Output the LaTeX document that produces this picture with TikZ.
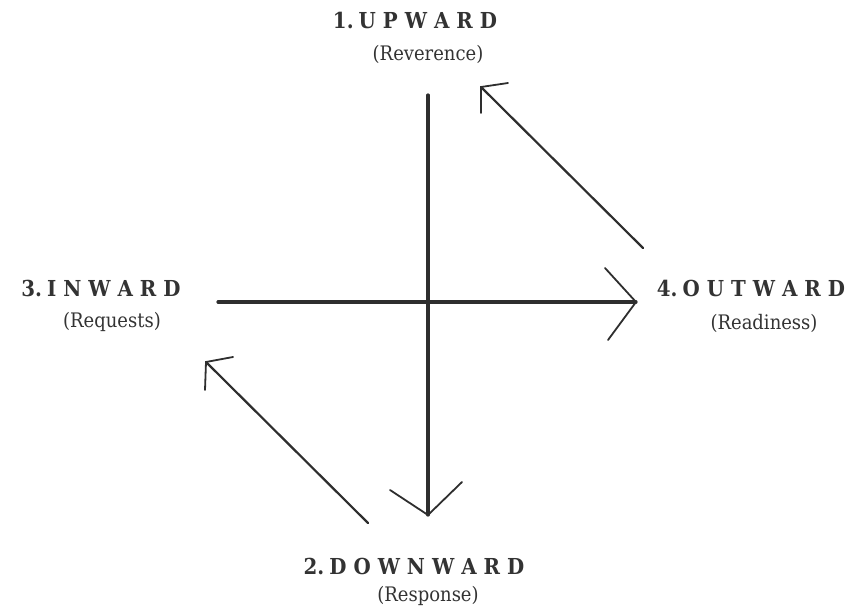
\documentclass[tikz,border=0pt]{standalone}
\usepackage{fontspec}
\setmainfont{DejaVu Serif Condensed}
\newfontfamily\headfont{DejaVu Serif Condensed Bold}
\definecolor{ink}{HTML}{333333}
\definecolor{pencil}{HTML}{2E2E2E}
\newcommand\ls{\hspace{7pt}}
\begin{document}
\begin{tikzpicture}[x=1pt,y=-1pt,
  head/.style={text=ink,font=\headfont\fontsize{22}{22}\selectfont,anchor=base,inner sep=0pt},
  sub/.style={text=ink,font=\fontsize{20}{20}\selectfont,anchor=base,inner sep=0pt},
  axis/.style={draw=pencil,line width=3.2pt,line cap=round},
  diag/.style={draw=pencil,line width=2.2pt,line cap=round},
  tip/.style={draw=pencil,line width=1.8pt,line cap=round,line join=round}]
\useasboundingbox (0,0) rectangle (864,608);
% labels
\node[head] (up) at (415,28) {1.\hspace{5pt}U\ls P\ls W\ls A\ls R\ls D};
\node[sub] (upsub) at (428,60) {(Reverence)};
\node[head] (in) at (101,296) {3.\hspace{5pt}I\ls N\ls W\ls A\ls R\ls D};
\node[sub] (insub) at (112,327) {(Requests)};
\node[head] (out) at (751,296) {4.\hspace{5pt}O\ls U\ls T\ls W\ls A\ls R\ls D};
\node[sub] (outsub) at (764,329) {(Readiness)};
\node[head] (down) at (414,574) {2.\hspace{5pt}D\ls O\ls W\ls N\ls W\ls A\ls R\ls D};
\node[sub] (downsub) at (428,601) {(Response)};
% coordinates
\coordinate (vtop) at (428,95);
\coordinate (vbot) at (428,515);
\coordinate (vl) at (390,490);
\coordinate (vr) at (462,482);
\coordinate (hl) at (218,302);
\coordinate (hr) at (636,302);
\coordinate (hu) at (605,268);
\coordinate (hd) at (608,340);
\coordinate (ds1) at (643,248);
\coordinate (de1) at (481,87);
\coordinate (dh1a) at (508,83);
\coordinate (dh1b) at (481,113);
\coordinate (ds2) at (368,523);
\coordinate (de2) at (206,362);
\coordinate (dh2a) at (233,357);
\coordinate (dh2b) at (205,390);
% axes
\draw[axis] (vtop) -- (vbot);
\draw[axis] (hl) -- (hr);
\draw[tip] (vl) -- (vbot) -- (vr);
\draw[tip] (hu) -- (hr) -- (hd);
% diagonals
\draw[diag] (ds1) -- (de1);
\draw[tip] (dh1a) -- (de1) -- (dh1b);
\draw[diag] (ds2) -- (de2);
\draw[tip] (dh2a) -- (de2) -- (dh2b);
\end{tikzpicture}
\end{document}
